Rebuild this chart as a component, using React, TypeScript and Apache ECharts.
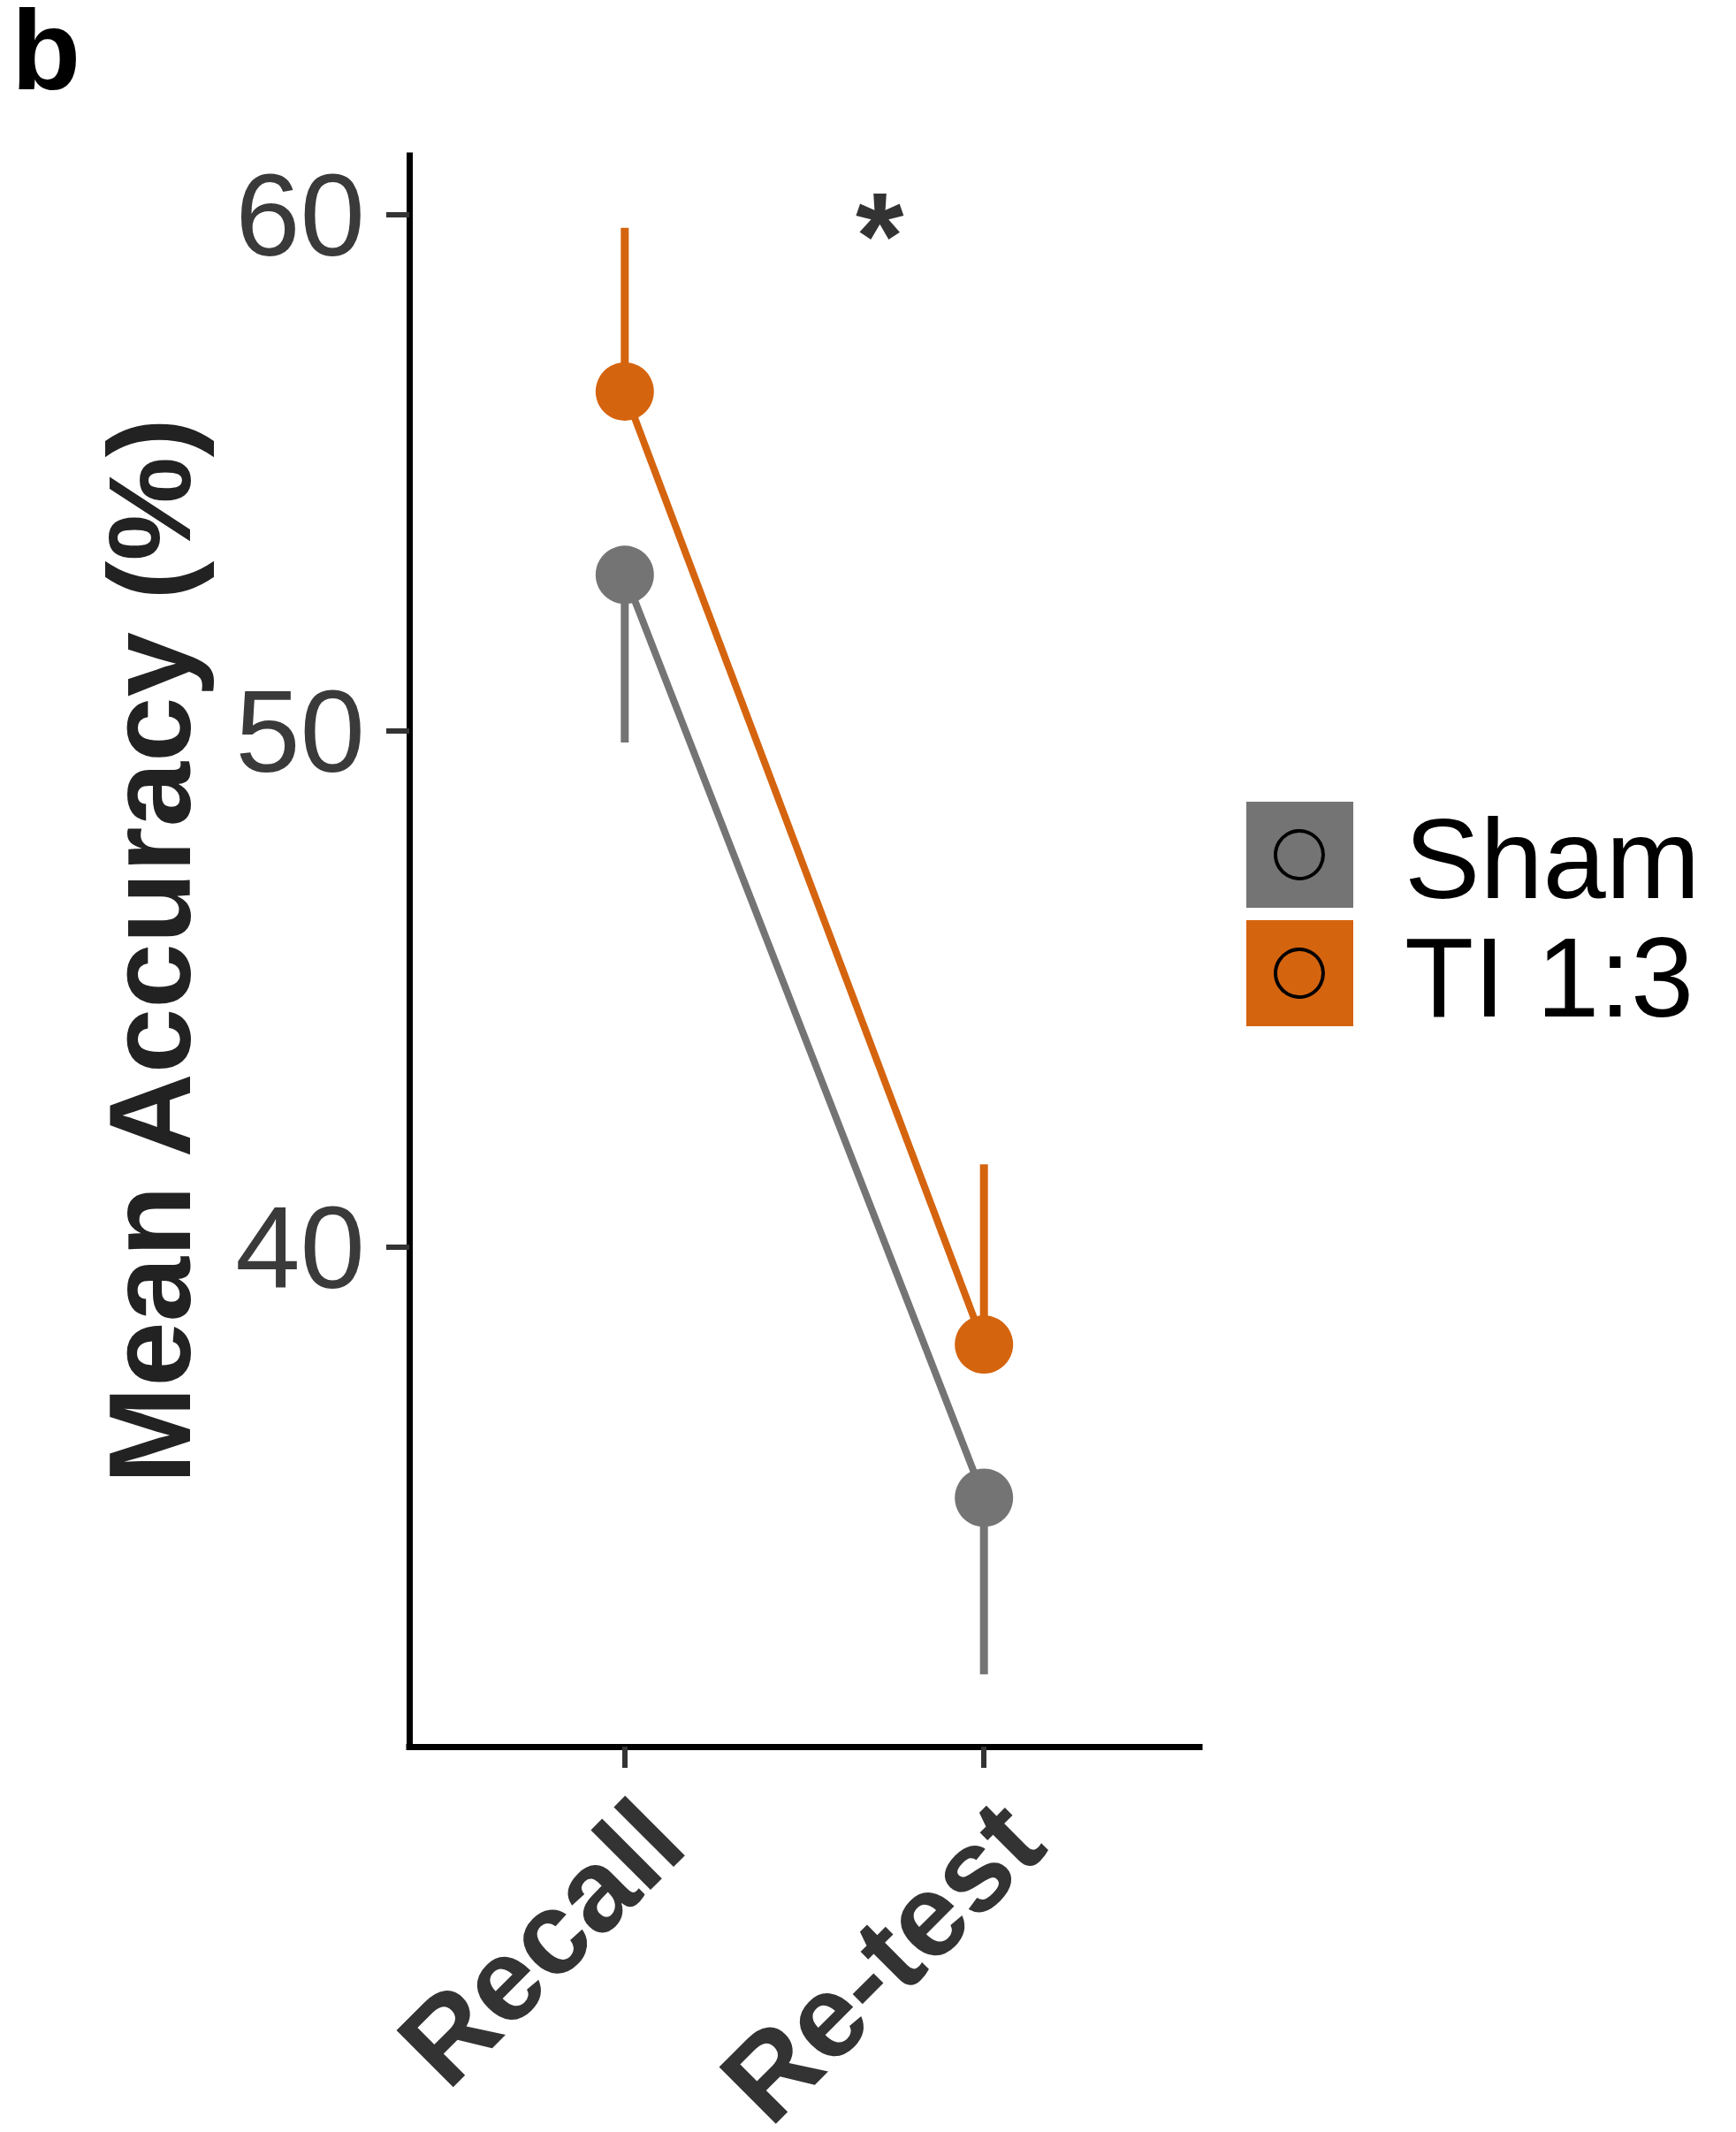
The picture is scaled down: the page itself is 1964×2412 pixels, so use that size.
import React, { useEffect, useRef } from 'react';
import * as echarts from 'echarts';

// ---- data ----
const categories = ['Recall', 'Re-test'];
const xPositions = [1, 2];
const seriesNames = ['Sham', 'TI 1:3'];
const shamMean = [53.03, 35.15];
const shamSE = [3.25, 3.42]; // drawn downward
const tiMean = [56.58, 38.12];
const tiSE = [3.17, 3.49]; // drawn upward
const yTicks = [40, 50, 60];
const sigText = '*';
const sigPos = [1.71, 59.6];

const GRAY = '#747474';
const ORANGE = '#D5640F';
const FONT = '"Liberation Sans", Arial, Helvetica, sans-serif';

export default function App() {
  const ref = useRef<HTMLDivElement>(null);
  useEffect(() => {
    document.body.style.margin = '0';
    const chart = echarts.init(ref.current!, null, { renderer: 'svg' });

    const shamLo = shamMean.map((m, i) => m - shamSE[i]);
    const tiHi = tiMean.map((m, i) => m + tiSE[i]);
    const allVals = [...shamMean, ...tiMean, ...shamLo, ...tiHi];
    const dMin = Math.min(...allVals);
    const dMax = Math.max(...allVals);
    const pad = (dMax - dMin) * 0.05;
    const yMin = dMin - pad;
    const yMax = dMax + pad;

    const errSeries = (name: string, data: number[][], color: string) => ({
      type: 'custom',
      name,
      data,
      encode: { x: 0, y: [1, 2] },
      z: 1,
      renderItem: (params: any, api: any) => {
        const x = api.value(0);
        const p1 = api.coord([x, api.value(1)]);
        const p2 = api.coord([x, api.value(2)]);
        return {
          type: 'line',
          shape: { x1: p1[0], y1: p1[1], x2: p2[0], y2: p2[1] },
          style: { stroke: color, lineWidth: 9 },
        };
      },
    });

    const lineSeries = (name: string, means: number[], color: string) => ({
      type: 'line',
      name,
      data: xPositions.map((x, i) => [x, means[i]]),
      symbol: 'circle',
      symbolSize: 66,
      itemStyle: { color },
      lineStyle: { color, width: 8 },
      z: 3,
    });

    const legendItems: any[] = [];
    const legendColors = [GRAY, ORANGE];
    const keyTop = [907, 1041];
    seriesNames.forEach((n, i) => {
      legendItems.push({
        type: 'rect',
        shape: { x: 1410, y: keyTop[i], width: 121, height: 120 },
        style: { fill: legendColors[i] },
      });
      legendItems.push({
        type: 'circle',
        shape: { cx: 1470, cy: keyTop[i] + 60, r: 27 },
        style: { fill: 'none', stroke: '#000', lineWidth: 4 },
      });
      legendItems.push({
        type: 'text',
        x: 1589,
        y: keyTop[i] + 64,
        style: {
          text: n,
          fill: '#000',
          font: `128px ${FONT}`,
          textAlign: 'left',
          textVerticalAlign: 'middle',
        },
      });
    });

    chart.setOption({
      animation: false,
      backgroundColor: '#fff',
      grid: {
        left: 463,
        right: 607,
        top: 176,
        bottom: 436,
        containLabel: false,
        outerBoundsMode: 'none',
      },
      xAxis: {
        type: 'value',
        min: 0.4,
        max: 2.6,
        splitLine: { show: false },
        axisLine: { show: true, lineStyle: { color: '#000', width: 7, cap: 'square' } },
        axisTick: { show: true, customValues: xPositions, length: 24, lineStyle: { color: '#333', width: 6 } },
        axisLabel: {
          customValues: xPositions,
          formatter: (v: number) => categories[xPositions.indexOf(Math.round(v))] ?? '',
          rotate: 45,
          align: 'right',
          verticalAlign: 'top',
          margin: 42,
          fontSize: 132,
          lineHeight: 120,
          fontWeight: 'bold',
          fontFamily: FONT,
          color: '#333',
        },
      },
      yAxis: {
        type: 'value',
        min: yMin,
        max: yMax,
        splitLine: { show: false },
        axisLine: { show: true, lineStyle: { color: '#000', width: 7, cap: 'square' } },
        axisTick: { show: true, customValues: yTicks, length: 26, lineStyle: { color: '#333', width: 6 } },
        axisLabel: {
          customValues: yTicks,
          margin: 50,
          fontSize: 132,
          fontFamily: FONT,
          color: '#3a3a3a',
        },
      },
      series: [
        errSeries(seriesNames[0], xPositions.map((x, i) => [x, shamLo[i], shamMean[i]]), GRAY),
        errSeries(seriesNames[1], xPositions.map((x, i) => [x, tiMean[i], tiHi[i]]), ORANGE),
        lineSeries(seriesNames[0], shamMean, GRAY),
        lineSeries(seriesNames[1], tiMean, ORANGE),
        {
          type: 'scatter',
          data: [sigPos],
          symbolSize: 1,
          itemStyle: { color: 'rgba(0,0,0,0)' },
          label: {
            show: true,
            position: 'inside',
            formatter: sigText,
            fontSize: 140,
            fontWeight: 'bold',
            fontFamily: FONT,
            color: '#000',
          },
        },
      ],
      graphic: [
        {
          type: 'text',
          x: 13,
          y: 56,
          style: {
            text: 'b',
            fill: '#000',
            font: `bold 128px ${FONT}`,
            lineHeight: 100,
            textAlign: 'left',
            textVerticalAlign: 'middle',
          },
        },
        {
          type: 'text',
          x: 169,
          y: 1076,
          rotation: Math.PI / 2,
          style: {
            text: 'Mean Accuracy (%)',
            fill: '#222',
            font: `bold 132px ${FONT}`,
            textAlign: 'center',
            textVerticalAlign: 'middle',
          },
        },
        ...legendItems,
      ],
    });
    return () => chart.dispose();
  }, []);
  return (
    <div
      ref={ref}
      style={{ position: 'absolute', left: 0, top: 0, width: 1964, height: 2412 }}
    />
  );
}
